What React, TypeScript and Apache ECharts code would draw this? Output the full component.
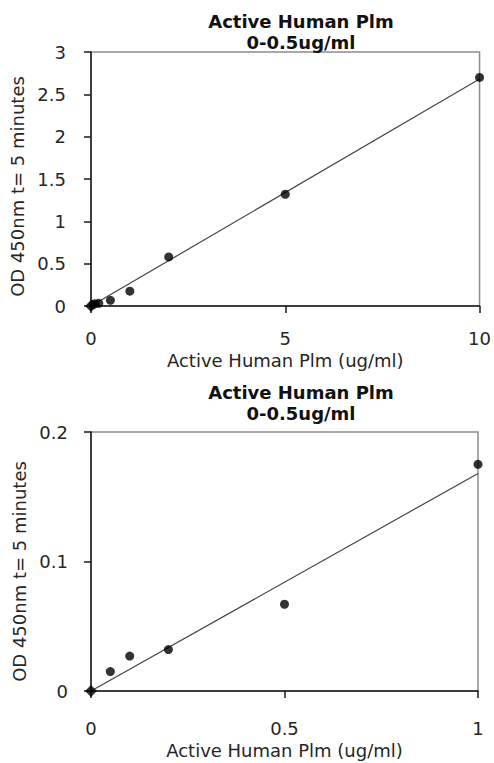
import React, { useEffect, useRef } from "react";
import * as echarts from "echarts";

const titleMain = "Active Human Plm";
const titleSub = "0-0.5ug/ml";
const xName = "Active Human Plm (ug/ml)";
const yName = "OD 450nm t= 5 minutes";

// Top chart (0-10 ug/ml)
const topX = [0, 0.05, 0.1, 0.2, 0.5, 1, 2, 5, 10];
const topY = [0, 0.015, 0.027, 0.032, 0.067, 0.175, 0.58, 1.32, 2.7];
const topFitX = [0, 10];
const topFitY = [0, 2.68];

// Bottom chart (0-1 ug/ml)
const botX = [0, 0.05, 0.1, 0.2, 0.5, 1];
const botY = [0, 0.015, 0.027, 0.032, 0.067, 0.175];
const botFitX = [0, 1];
const botFitY = [0, 0.168];

const FONT = "DejaVu Sans";
const TXT = "#262626";

function pairs(xs: number[], ys: number[]) {
  return xs.map((x, i) => [x, ys[i]]);
}

export default function App() {
  const ref = useRef<HTMLDivElement>(null);
  useEffect(() => {
    if (!ref.current) return;
    const chart = echarts.init(ref.current, undefined, { renderer: "svg" });
    const axisCommon = {
      type: "value" as const,
      splitLine: { show: false },
      axisLine: { show: true, onZero: false, lineStyle: { color: "#1a1a1a", width: 1.5 } },
      axisTick: { show: true, inside: false, length: 7, lineStyle: { color: "#1a1a1a", width: 1.5 } },
      nameLocation: "middle" as const,
      nameTextStyle: { fontFamily: FONT, fontSize: 18, color: TXT, lineHeight: 18 },
    };
    const xLabel = (margin: number) => ({ fontFamily: FONT, fontSize: 18, color: TXT, margin, lineHeight: 18 });
    const yLabel = (margin: number) => ({ fontFamily: FONT, fontSize: 18, color: TXT, margin });
    const titleStyle = { fontFamily: FONT, fontSize: 18, fontWeight: "bold" as const, color: "#111", lineHeight: 21 };
    chart.setOption({
      animation: false,
      backgroundColor: "#ffffff",
      title: [
        { text: titleMain + "\n" + titleSub, left: 296, top: 6, textAlign: "center", textStyle: titleStyle },
        { text: titleMain + "\n" + titleSub, left: 296, top: 377, textAlign: "center", textStyle: titleStyle },
      ],
      grid: [
        { left: 91, top: 52, width: 390, height: 254, show: true, borderColor: "#8c8c8c", borderWidth: 1.5, backgroundColor: "transparent" },
        { left: 91, top: 432, width: 387, height: 259, show: true, borderColor: "#8c8c8c", borderWidth: 1.5, backgroundColor: "transparent" },
      ],
      xAxis: [
        { ...axisCommon, gridIndex: 0, min: 0, max: 10, interval: 5, name: xName, nameGap: 45, axisLabel: xLabel(23) },
        { ...axisCommon, gridIndex: 1, min: 0, max: 1, interval: 0.5, name: xName, nameGap: 50, axisLabel: xLabel(28) },
      ],
      yAxis: [
        {
          ...axisCommon, gridIndex: 0, min: 0, max: 3, interval: 0.5, name: yName, nameGap: 58, nameRotate: 90,
          nameTextStyle: { ...axisCommon.nameTextStyle, padding: [0, 15, 0, 0] },
          axisLabel: yLabel(25),
        },
        {
          ...axisCommon, gridIndex: 1, min: 0, max: 0.2, interval: 0.1, name: yName, nameGap: 58, nameRotate: 90,
          nameTextStyle: { ...axisCommon.nameTextStyle, padding: [0, 20, 0, 0] },
          axisLabel: yLabel(23),
        },
      ],
      series: [
        {
          type: "line", xAxisIndex: 0, yAxisIndex: 0, data: pairs(topFitX, topFitY), showSymbol: false,
          lineStyle: { color: "#444", width: 1.2 }, silent: true, z: 2,
        },
        {
          type: "scatter", xAxisIndex: 0, yAxisIndex: 0, data: pairs(topX, topY).slice(1), symbol: "circle", symbolSize: 9,
          itemStyle: { color: "#000" }, clip: false, z: 3,
        },
        {
          type: "scatter", xAxisIndex: 0, yAxisIndex: 0, data: pairs(topX, topY).slice(0, 1), symbol: "diamond", symbolSize: 12,
          itemStyle: { color: "#000" }, clip: false, z: 3,
        },
        {
          type: "line", xAxisIndex: 1, yAxisIndex: 1, data: pairs(botFitX, botFitY), showSymbol: false,
          lineStyle: { color: "#444", width: 1.2 }, silent: true, z: 2,
        },
        {
          type: "scatter", xAxisIndex: 1, yAxisIndex: 1, data: pairs(botX, botY).slice(1), symbol: "circle", symbolSize: 9,
          itemStyle: { color: "#000" }, clip: false, z: 3,
        },
        {
          type: "scatter", xAxisIndex: 1, yAxisIndex: 1, data: pairs(botX, botY).slice(0, 1), symbol: "diamond", symbolSize: 12,
          itemStyle: { color: "#000" }, clip: false, z: 3,
        },
      ],
    });
    return () => chart.dispose();
  }, []);
  return (
    <div
      ref={ref}
      style={{ position: "absolute", left: 0, top: 0, width: 494, height: 763 }}
    />
  );
}
